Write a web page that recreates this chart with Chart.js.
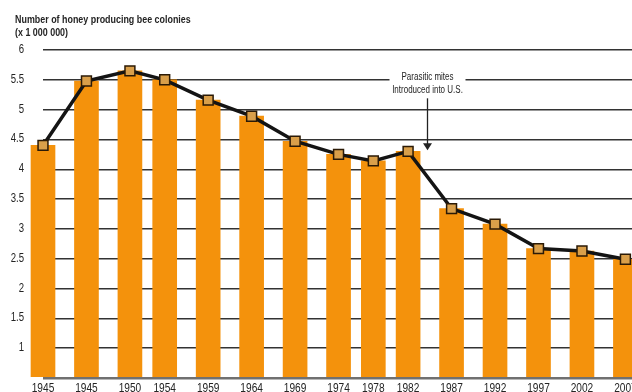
<!DOCTYPE html>
<html>
<head>
<meta charset="utf-8">
<script src="https://cdn.jsdelivr.net/npm/chart.js@4/dist/chart.umd.min.js"></script>
<style>
  html, body { margin: 0; padding: 0; overflow: hidden; background: #ffffff; }
  #wrap { width: 660px; height: 420px; }
</style>
</head>
<body>
<div id="wrap"><canvas id="c" width="660" height="420"></canvas></div>
<script>
// Honey producing bee colonies in the U.S. (millions)
const years      = [1940, 1945, 1950, 1954, 1959, 1964, 1969, 1974, 1978, 1982, 1987, 1992, 1997, 2002, 2007];
const yearLabels = ['1945', '1945', '1950', '1954', '1959', '1964', '1969', '1974', '1978', '1982', '1987', '1992', '1997', '2002', '2007'];
const colonies   = [4.40, 5.48, 5.65, 5.50, 5.16, 4.89, 4.47, 4.25, 4.14, 4.30, 3.34, 3.08, 2.67, 2.63, 2.49];
const yTicks     = [1, 1.5, 2, 2.5, 3, 3.5, 4, 4.5, 5, 5.5, 6];

const titleLines = ['Number of honey producing bee colonies', '(x 1 000 000)'];
const noteLines  = ['Parasitic mites', 'Introduced into U.S.'];
const noteYear   = 1984.2;

const FONT = "'Liberation Sans', Arial, sans-serif";
const INK = '#242424';

const points = years.map((yr, i) => ({ x: yr, y: colonies[i] }));

// condensed text: squeeze horizontally around the anchor point
function narrowText(ctx, text, x, y, align, font, squeeze) {
  ctx.save();
  ctx.translate(x, y);
  ctx.scale(squeeze, 1);
  ctx.font = font;
  ctx.textAlign = align;
  ctx.textBaseline = 'alphabetic';
  ctx.fillText(text, 0, 0);
  ctx.restore();
}

const overlay = {
  id: 'overlay',
  afterDraw(chart) {
    const { ctx, scales } = chart;
    const x = scales.x, y = scales.y;
    ctx.save();
    ctx.fillStyle = INK;

    // heading
    narrowText(ctx, titleLines[0], 15, 22.5, 'left', 'bold 11px ' + FONT, 0.81);
    narrowText(ctx, titleLines[1], 15, 35.5, 'left', 'bold 11px ' + FONT, 0.81);

    // value axis labels
    yTicks.forEach(v => {
      narrowText(ctx, String(v), 24, y.getPixelForValue(v) + 3, 'right', '12px ' + FONT, 0.8);
    });

    // year labels
    years.forEach((yr, i) => {
      narrowText(ctx, yearLabels[i], x.getPixelForValue(yr), 391.5, 'center', '13px ' + FONT, 0.78);
    });

    // note about mites, with arrow down to the curve
    const ax = Math.round(x.getPixelForValue(noteYear)) + 0.5;
    ctx.fillStyle = '#ffffff';
    ctx.fillRect(ax - 38, 68, 76, 28);
    ctx.fillStyle = INK;
    narrowText(ctx, noteLines[0], ax, 79.5, 'center', '10px ' + FONT, 0.8);
    narrowText(ctx, noteLines[1], ax, 93, 'center', '10px ' + FONT, 0.8);

    const top = y.getPixelForValue(5.19);
    const tip = y.getPixelForValue(4.32);
    ctx.strokeStyle = '#222';
    ctx.lineWidth = 1.3;
    ctx.beginPath();
    ctx.moveTo(ax, top);
    ctx.lineTo(ax, tip - 5);
    ctx.stroke();
    ctx.fillStyle = '#222';
    ctx.beginPath();
    ctx.moveTo(ax - 4.5, tip - 7);
    ctx.lineTo(ax + 4.5, tip - 7);
    ctx.lineTo(ax, tip);
    ctx.closePath();
    ctx.fill();

    ctx.restore();
  }
};

new Chart(document.getElementById('c'), {
  data: {
    datasets: [
      {
        type: 'line',
        data: points,
        borderColor: '#141414',
        borderWidth: 3.5,
        tension: 0,
        pointStyle: 'rect',
        pointRadius: 7,
        pointBackgroundColor: '#d99f4a',
        pointBorderColor: '#2b1a06',
        pointBorderWidth: 1.5,
        clip: false,
        order: 0
      },
      {
        type: 'bar',
        data: points,
        backgroundColor: '#f4920c',
        borderWidth: 0,
        barThickness: 24,
        base: 0.5,
        clip: false,
        order: 1
      }
    ]
  },
  options: {
    responsive: false,
    animation: false,
    devicePixelRatio: 1,
    layout: { padding: { top: 50, right: 3, left: 0, bottom: 0 } },
    plugins: { legend: { display: false }, tooltip: { enabled: false }, title: { display: false } },
    scales: {
      x: {
        type: 'linear',
        offset: false,
        min: 1940,
        max: 2010,
        grid: { display: false },
        border: { display: false },
        afterBuildTicks: s => { s.ticks = years.map(v => ({ value: v })); },
        afterFit: s => { s.height = 42; },
        ticks: { display: false }
      },
      y: {
        min: 0.5,
        max: 6,
        afterBuildTicks: s => { s.ticks = [0.5].concat(yTicks).map(v => ({ value: v })); },
        afterFit: s => { s.width = 43; },
        border: { display: false },
        grid: {
          drawTicks: false,
          color: c => (c.tick && c.tick.value === 0.5) ? '#707070' : '#333333',
          lineWidth: c => (c.tick && c.tick.value === 0.5) ? 2.5 : 1.5
        },
        ticks: { display: false }
      }
    }
  },
  plugins: [overlay]
});
</script>
</body>
</html>
